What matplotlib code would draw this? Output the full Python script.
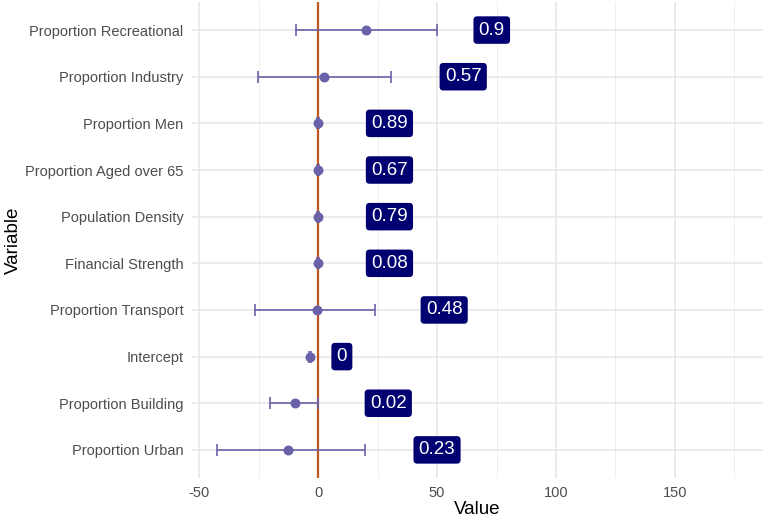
import matplotlib
matplotlib.use('Agg')
import matplotlib.pyplot as plt

plt.rcParams['font.family'] = ['Liberation Sans', 'DejaVu Sans']

# coefficient estimates, bottom to top
variables = ['Proportion Urban', 'Proportion Building', 'Intercept', 'Proportion Transport',
             'Financial Strength', 'Population Density', 'Proportion Aged over 65',
             'Proportion Men', 'Proportion Industry', 'Proportion Recreational']
estimate = [-12.6, -9.7, -3.4, -0.5, 0.0, 0.0, 0.0, 0.0, 2.5, 20.2]
lower = [-42.4, -20.2, -4.0, -26.5, -0.3, -0.3, -0.3, -0.3, -25.2, -9.2]
upper = [19.7, 0.0, -2.8, 24.0, 0.3, 0.3, 0.3, 0.3, 30.7, 50.0]
p_values = ['0.23', '0.02', '0', '0.48', '0.08', '0.79', '0.67', '0.89', '0.57', '0.9']
label_x = [50, 29.5, 10, 53, 30, 30, 30, 30, 61, 73]

pt_col = '#6a62a8'
fig = plt.figure(figsize=(7.63, 5.20), dpi=100)
ax = fig.add_axes([0.2516, 0.081, 0.7484, 0.915])

ypos = list(range(len(variables)))
err_lo = [e - l for e, l in zip(estimate, lower)]
err_hi = [u - e for e, u in zip(estimate, upper)]

ax.axvline(0, color='#c0561f', lw=1.6, zorder=2)
ax.errorbar(estimate, ypos, xerr=[err_lo, err_hi], fmt='none', ecolor=pt_col,
            elinewidth=1.2, capsize=4.5, capthick=1.2, zorder=3)
ax.scatter(estimate, ypos, s=38, color=pt_col, zorder=4)

for x, y, t in zip(label_x, ypos, p_values):
    ax.text(x, y, t, ha='center', va='center', color='white', fontsize=13.5,
            bbox=dict(boxstyle='round,pad=0.28,rounding_size=0.2', fc='#000070', ec='none'),
            zorder=5)

ax.set_xlim(-53, 187)
ax.set_ylim(-0.6, len(variables) - 0.4)
ax.set_yticks(ypos)
ax.set_yticklabels(variables)
ax.set_xticks([-50, 0, 50, 100, 150])
ax.set_xticklabels(['-50', '0', '50', '100', '150'])
ax.set_xticks([-25, 25, 75, 125, 175], minor=True)

ax.grid(True, which='major', color='#e6e6e6', lw=1.1, zorder=0)
ax.grid(True, which='minor', axis='x', color='#eeeeee', lw=0.7, zorder=0)
ax.set_axisbelow(True)
for s in ax.spines.values():
    s.set_visible(False)
ax.tick_params(which='both', length=0, labelsize=10.5, labelcolor='#4d4d4d', pad=6)

ax.set_xlabel('Value', fontsize=13.5)
ax.set_ylabel('Variable', fontsize=13.5)
ax.xaxis.set_label_coords(0.5, -0.048)
ax.yaxis.set_label_coords(-0.297, 0.5)

fig.savefig('out.png', dpi=100)
